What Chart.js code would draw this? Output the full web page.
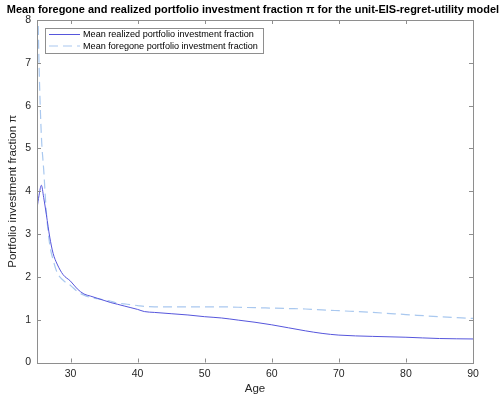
<!DOCTYPE html>
<html>
<head>
<meta charset="utf-8">
<script src="https://cdn.jsdelivr.net/npm/chart.js@4.4.1/dist/chart.umd.min.js"></script>
<style>
  html, body { margin: 0; padding: 0; background: #fff; }
  #wrap { width: 503px; height: 396px; }
</style>
</head>
<body>
<div id="wrap"><canvas id="grafico" width="503" height="396"></canvas></div>
<script>
const titulo = "Mean foregone and realized portfolio investment fraction π for the unit-EIS-regret-utility model";
const tituloX = "Age";
const tituloY = "Portfolio investment fraction π";

const idades = [25, 25.3, 25.65, 26, 26.4, 26.9, 27.4, 28, 28.9, 30, 31, 32, 33, 34, 35, 36, 37, 38, 39, 40,
  41, 42.5, 45, 47.5, 50, 52.5, 55, 57.5, 60, 62.5, 65, 67.5, 70, 75, 80, 85, 90];

const realizado = [3.6, 3.9, 4.14, 3.85, 3.45, 2.93, 2.55, 2.3, 2.05, 1.9, 1.72, 1.6, 1.55, 1.5, 1.45, 1.4, 1.36, 1.32, 1.28, 1.24,
  1.19, 1.17, 1.14, 1.11, 1.07, 1.04, 0.99, 0.94, 0.88, 0.81, 0.74, 0.68, 0.64, 0.61, 0.59, 0.56, 0.55];

const renunciado = [9.5, 7.0, 5.3, 4.5, 3.5, 2.75, 2.4, 2.1, 1.92, 1.8, 1.66, 1.57, 1.52, 1.49, 1.46, 1.43, 1.39, 1.37, 1.35, 1.33,
  1.31, 1.3, 1.3, 1.3, 1.3, 1.3, 1.29, 1.28, 1.27, 1.26, 1.25, 1.23, 1.21, 1.17, 1.12, 1.07, 1.03];

const nomes = ["Mean realized portfolio investment fraction", "Mean foregone portfolio investment fraction"];
const ticksX = [30, 40, 50, 60, 70, 80, 90];
const ticksY = [0, 1, 2, 3, 4, 5, 6, 7, 8];

const corEixo = "#8e8e8e";
const corTexto = "#262626";
const fonte = "'Liberation Sans', Arial, Helvetica, sans-serif";

function pontos(valores) {
  return idades.map((x, i) => ({ x: x, y: valores[i] }));
}

// título, caixa, ticks internos e legenda no estilo MATLAB
const estiloMatlab = {
  id: "estiloMatlab",
  afterDraw(chart) {
    const ctx = chart.ctx;
    const a = chart.chartArea;
    const sx = chart.scales.x, sy = chart.scales.y;
    ctx.save();

    ctx.strokeStyle = corEixo;
    ctx.lineWidth = 1;
    ctx.strokeRect(Math.round(a.left) + 0.5, Math.round(a.top) + 0.5,
      Math.round(a.right - a.left), Math.round(a.bottom - a.top));

    const len = 4;
    ctx.beginPath();
    ticksX.forEach(v => {
      const px = Math.round(sx.getPixelForValue(v)) + 0.5;
      ctx.moveTo(px, a.bottom); ctx.lineTo(px, a.bottom - len);
      ctx.moveTo(px, a.top); ctx.lineTo(px, a.top + len);
    });
    ticksY.forEach(v => {
      const py = Math.round(sy.getPixelForValue(v)) + 0.5;
      ctx.moveTo(a.left, py); ctx.lineTo(a.left + len, py);
      ctx.moveTo(a.right, py); ctx.lineTo(a.right - len, py);
    });
    ctx.stroke();

    // título
    ctx.fillStyle = "#000";
    ctx.font = "bold 11.5px " + fonte;
    ctx.textAlign = "center";
    ctx.textBaseline = "middle";
    let w = ctx.measureText(titulo).width;
    const alvo = 493;
    if (w > alvo) {
      ctx.font = "bold " + (11.5 * alvo / w).toFixed(2) + "px " + fonte;
    }
    ctx.fillText(titulo, 253, 10);

    // legenda
    const lx = 45.5, ly = 28.5, lw = 218, lh = 25;
    ctx.fillStyle = "#fff";
    ctx.fillRect(lx, ly, lw, lh);
    ctx.strokeStyle = corEixo;
    ctx.strokeRect(lx, ly, lw, lh);
    chart.data.datasets.forEach((ds, i) => {
      const y = 34.5 + i * 11.5;
      ctx.strokeStyle = ds.borderColor;
      ctx.lineWidth = ds.borderWidth;
      ctx.setLineDash(ds.borderDash || []);
      ctx.beginPath();
      ctx.moveTo(49, y); ctx.lineTo(80, y);
      ctx.stroke();
      ctx.setLineDash([]);
      ctx.fillStyle = "#000";
      ctx.font = "9.1px " + fonte;
      ctx.textAlign = "left";
      ctx.fillText(ds.label, 83, y);
    });

    ctx.restore();
  }
};

const ctx = document.getElementById("grafico").getContext("2d");

new Chart(ctx, {
  type: "line",
  data: {
    datasets: [
      {
        label: nomes[0],
        data: pontos(realizado),
        borderColor: "#5656dc",
        borderWidth: 1,
        pointRadius: 0,
        fill: false,
        cubicInterpolationMode: "monotone",
        order: 1
      },
      {
        label: nomes[1],
        data: pontos(renunciado),
        borderColor: "#a9c8ef",
        borderWidth: 1.2,
        borderDash: [9, 5],
        pointRadius: 0,
        fill: false,
        cubicInterpolationMode: "monotone",
        order: 2
      }
    ]
  },
  options: {
    responsive: false,
    animation: false,
    layout: { padding: { left: 0, right: 30, top: 20, bottom: 0 } },
    plugins: {
      legend: { display: false },
      title: { display: false },
      tooltip: { enabled: false }
    },
    scales: {
      x: {
        type: "linear",
        min: 25,
        max: 90,
        afterBuildTicks: s => { s.ticks = ticksX.map(v => ({ value: v })); },
        afterFit: s => { s.height = 33.5; },
        grid: { display: false, drawTicks: false },
        border: { display: false },
        ticks: { color: corTexto, font: { family: fonte, size: 10.5 }, padding: 5, maxRotation: 0 },
        title: { display: true, text: tituloX, color: corTexto, font: { family: fonte, size: 11.5 }, padding: { top: 0, bottom: 0 } }
      },
      y: {
        type: "linear",
        min: 0,
        max: 8,
        afterBuildTicks: s => { s.ticks = ticksY.map(v => ({ value: v })); },
        afterFit: s => { s.width = 37; },
        grid: { display: false, drawTicks: false },
        border: { display: false },
        ticks: { color: corTexto, font: { family: fonte, size: 10.5 }, padding: 6 },
        title: { display: true, text: tituloY, color: corTexto, font: { family: fonte, size: 11.5 }, padding: { top: 6, bottom: 0 } }
      }
    }
  },
  plugins: [estiloMatlab]
});
</script>
</body>
</html>
